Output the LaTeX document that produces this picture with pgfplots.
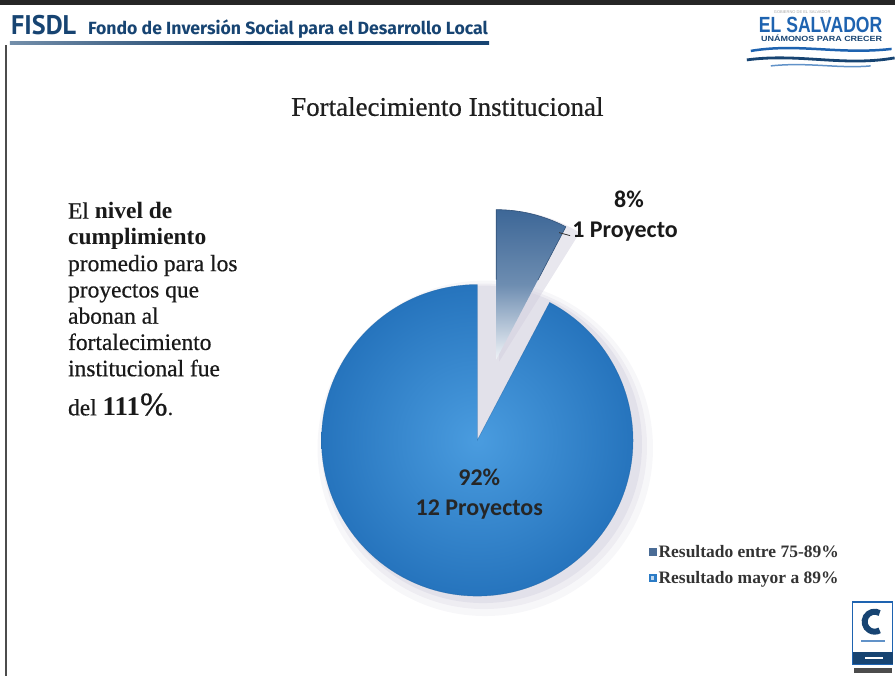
\documentclass[border=0pt]{standalone}
\usepackage{pgfplots}
\pgfplotsset{compat=1.18}
\usepackage{pgfplotstable}
\usepackage{fontspec}
\setmainfont{Liberation Serif}
\newfontfamily\medserif{Liberation Serif}[FakeBold=0.6]
\newfontfamily\carlito{Carlito}
\newfontfamily\headfont{Fira Sans}
\newfontfamily\fisdlfont{PT Sans}
\newfontfamily\arialfont{Liberation Sans}

\definecolor{mainbluein}{HTML}{4A9CDF}
\definecolor{mainblueout}{HTML}{2674BD}
\definecolor{smallblue}{HTML}{3D6797}
\definecolor{headblue}{HTML}{174472}
\definecolor{logoblue}{HTML}{1E63B0}
\definecolor{shadowc}{HTML}{B4AFC8}
\definecolor{legdark}{HTML}{4A6C96}
\definecolor{legblue}{HTML}{2C7CC6}

% projects per result class
\pgfplotstableread{
slice projects percent
1 1 8
2 12 92
}\piedata

\begin{document}
\begin{tikzpicture}[x=1pt,y=1pt]
\pgfplotstablegetelem{0}{projects}\of\piedata \pgfmathsetmacro{\nA}{\pgfplotsretval}
\pgfplotstablegetelem{1}{projects}\of\piedata \pgfmathsetmacro{\nB}{\pgfplotsretval}
\pgfmathsetmacro{\angA}{360*\nA/(\nA+\nB)}
\pgfmathsetmacro{\endMain}{90+360-\angA}
\pgfmathsetmacro{\endSmall}{90-\angA}

% page frame
\path (0,0) rectangle (896,677);
\fill[black!85] (0,672) rectangle (896,677);
\draw[black!70, line width=2pt] (6,0) -- (6,632);

% header
\node[anchor=base west, inner sep=0, text=headblue, xscale=0.97] at (11,642) {\fisdlfont\bfseries\fontsize{27}{27}\selectfont FISDL};
\node[anchor=base west, inner sep=0, text=headblue] at (88,642) {\headfont\bfseries\fontsize{17.7}{17.7}\selectfont Fondo de Inversi\'on Social para el Desarrollo Local};
\shade[left color=headblue!60, right color=headblue, middle color=headblue!90!black] (10,632) rectangle (490,635);

% El Salvador logo
\node[anchor=base west, inner sep=0, text=logoblue, xscale=0.8] at (760,644) {\arialfont\bfseries\fontsize{22}{22}\selectfont EL SALVADOR};
\node[anchor=base west, inner sep=0, text=headblue, xscale=1.2] at (762,635) {\arialfont\bfseries\fontsize{7.5}{7.5}\selectfont UN\'AMONOS PARA CRECER};
\node[anchor=base west, inner sep=0, text=black!35] at (775,663) {\arialfont\fontsize{4}{4}\selectfont GOBIERNO DE EL SALVADOR};
\draw[logoblue, line width=2.5pt] (752,626) .. controls (800,634) and (840,622) .. (893,628);
\draw[headblue, line width=2.8pt] (748,617) .. controls (800,624) and (845,610) .. (896,619);
\draw[logoblue!70, line width=1.5pt] (772,611) .. controls (810,615) and (840,608) .. (872,611);

% title
\node[anchor=base, inner sep=0, text=black!88] at (448,561) {\medserif\fontsize{27}{27}\selectfont Fortalecimiento Institucional};

% left text
\begin{scope}[every node/.style={anchor=base west, inner sep=0, text=black!90}]
\node at (68,458) {\fontsize{23.5}{23.5}\selectfont{\medserif El} \textbf{nivel de}};
\node at (68,431.7) {\fontsize{23.5}{23.5}\selectfont \textbf{cumplimiento}};
\node at (68,405.4) {\medserif\fontsize{23.5}{23.5}\selectfont promedio para los};
\node at (68,379.1) {\medserif\fontsize{23.5}{23.5}\selectfont proyectos que};
\node at (68,352.8) {\medserif\fontsize{23.5}{23.5}\selectfont abonan al};
\node at (68,326.5) {\medserif\fontsize{23.5}{23.5}\selectfont fortalecimiento};
\node at (68,300.2) {\medserif\fontsize{23.5}{23.5}\selectfont institucional fue};
\node at (68,261) {\fontsize{23.5}{23.5}\selectfont{\medserif del} \textbf{\fontsize{27}{27}\selectfont 111}{\medserif\fontsize{33}{33}\selectfont\%}.};
\end{scope}

% pie shadow
\fill[shadowc, opacity=0.10] (486,228) circle[radius=168];
\fill[shadowc, opacity=0.14] (485,230) circle[radius=163];
\fill[shadowc, opacity=0.20] (484,232) circle[radius=159];
\fill[shadowc!60, opacity=0.5] (500,315) -- ++(90:152) arc[start angle=90, end angle=58, radius=152] -- cycle;

% bottom-right certification logo
\fill[white] (853,4) rectangle (895,75);
\draw[logoblue, line width=1.2pt] (854,12) rectangle (894,74);
\draw[headblue, line width=6pt] (881,63) arc[start angle=60, end angle=300, radius=10];
\fill[logoblue!70] (862,34) rectangle (886,36);
\fill[headblue] (854,12) rectangle (894,24);
\fill[white] (866,17) rectangle (884,19);
\fill[black!70] (855,3) rectangle (893,8);

\begin{axis}[
  at={(0pt,0pt)}, anchor=south west,
  width=896pt, height=677pt, scale only axis,
  xmin=0, xmax=896, ymin=0, ymax=677,
  axis lines=none, clip=false,
  legend style={at={(axis cs:650,111)}, anchor=west, draw=none, fill=none,
    font=\bfseries\fontsize{17.5}{17.5}\selectfont, text=black!80,
    row sep=8.5pt, inner sep=0pt, nodes={inner sep=2pt}},
  legend cell align=left,
]
% main slice (12 projects)
\shade[inner color=mainbluein, outer color=mainblueout]
  (axis cs:478,236) -- ++(90:156pt) arc[start angle=90, end angle=\endMain, radius=156pt] -- cycle;
\draw[mainblueout!85!black, line width=0.5pt, opacity=0.5]
  (axis cs:478,236) -- ++(90:156pt) arc[start angle=90, end angle=\endMain, radius=156pt] -- cycle;
% exploded slice (1 project)
\shade[top color=smallblue, bottom color=smallblue!8!white, middle color=smallblue!75!white]
  (axis cs:497,317) -- ++(90:150pt) arc[start angle=90, end angle=\endSmall, radius=150pt] -- cycle;
\draw[smallblue!80!black, line width=0.6pt]
  (axis cs:497,397) -- ++(90:70pt) arc[start angle=90, end angle=\endSmall, radius=150pt] -- ++(\endSmall+180:60pt);

% data labels
\node[anchor=base, inner sep=0, text=black!90] at (axis cs:630,469) {\carlito\bfseries\fontsize{24}{24}\selectfont 8\%};
\node[anchor=base west, inner sep=0, text=black!90] at (axis cs:573,439) {\carlito\bfseries\fontsize{24}{24}\selectfont 1 Proyecto};
\draw[black!80, line width=0.8pt] (axis cs:560,444) -- (axis cs:571,441);
\node[anchor=base, inner sep=0, text=black!85] at (axis cs:480,191) {\carlito\bfseries\fontsize{24}{24}\selectfont 92\%};
\node[anchor=base, inner sep=0, text=black!85] at (axis cs:480,161) {\carlito\bfseries\fontsize{24}{24}\selectfont 12 Proyectos};

\addlegendimage{legend image code/.code={\fill[legdark] (0pt,-3.5pt) rectangle (7pt,3.5pt);}}
\addlegendentry{Resultado entre 75-89\%}
\addlegendimage{legend image code/.code={\fill[legblue] (0pt,-3.5pt) rectangle (7pt,3.5pt); \fill[white!70!legblue] (1.5pt,-1pt) rectangle (4pt,1.5pt);}}
\addlegendentry{Resultado mayor a 89\%}
\end{axis}
\end{tikzpicture}
\end{document}
